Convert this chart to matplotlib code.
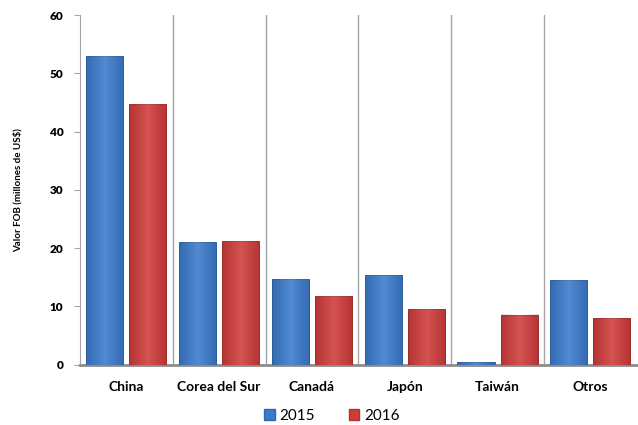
import matplotlib
matplotlib.use("Agg")
import matplotlib.pyplot as plt
import numpy as np
from matplotlib.patches import Patch

categories = ["China", "Corea del Sur", "Canadá", "Japón", "Taiwán", "Otros"]
v2015 = [53.0, 21.0, 14.7, 15.4, 0.4, 14.5]
v2016 = [44.7, 21.2, 11.8, 9.5, 8.6, 8.0]
series = ["2015", "2016"]
yticks = [0, 10, 20, 30, 40, 50, 60]

plt.rcParams['font.family'] = ['Lato', 'DejaVu Sans']

fig = plt.figure(figsize=(6.38, 4.25), dpi=100)
ax = fig.add_axes([0.1254, 0.1419, 0.8726, 0.8228])

x = np.arange(len(categories))
w = 0.40
off = 0.232
c_blue = "#3b7bcb"
c_red = "#cf3c3c"
e_blue = "#3468ad"
e_red = "#b03232"

b1 = ax.bar(x - off, v2015, width=w, color=c_blue, edgecolor=e_blue, linewidth=0.7, zorder=3)
b2 = ax.bar(x + off, v2016, width=w, color=c_red, edgecolor=e_red, linewidth=0.7, zorder=3)

# subtle gradient shading on bars
grad = np.linspace(0, 1, 64)
shade = 1 - np.abs(grad - 0.5) * 2
for bars in (b1, b2):
    for b in bars:
        bx, by = b.get_x(), b.get_y()
        bw, bh = b.get_width(), b.get_height()
        if bh <= 0:
            continue
        img = np.zeros((1, 64, 4))
        img[0, :, :3] = 1.0
        img[0, :, 3] = shade * 0.12
        ax.imshow(img, extent=[bx, bx + bw, by, by + bh], aspect='auto', zorder=4, interpolation='bilinear')
        dk = np.zeros((1, 64, 4))
        dk[0, :, 3] = (1 - shade) * 0.12
        ax.imshow(dk, extent=[bx, bx + bw, by, by + bh], aspect='auto', zorder=4, interpolation='bilinear')

ax.set_xlim(-0.5, len(categories) - 0.5)
ax.set_ylim(0, 60)

for i in range(1, len(categories)):
    ax.axvline(i - 0.5, color="#a6a6a6", linewidth=1.0, zorder=1)

ax.set_yticks(yticks)
ax.set_yticklabels([str(t) for t in yticks], fontsize=8.5, fontweight='heavy')
ax.set_xticks(x)
ax.set_xticklabels(categories, fontsize=10, fontweight='bold')
ax.tick_params(axis='x', length=0, pad=12)
ax.tick_params(axis='y', length=4, color="#a6a6a6", pad=8)

for s in ['top', 'right']:
    ax.spines[s].set_visible(False)
ax.spines['left'].set_color("#a6a6a6")
ax.spines['bottom'].set_color("#8c8c8c")
ax.spines['bottom'].set_linewidth(2)

fig.text(0.028, 0.553, "Valor FOB (millones de US$)", rotation=90, fontsize=7,
         fontweight='bold', ha='center', va='center')

handles = [Patch(facecolor=c_blue, edgecolor=e_blue), Patch(facecolor=c_red, edgecolor=e_red)]
fig.legend(handles, series, loc='center', bbox_to_anchor=(0.52, 0.022), ncol=2, frameon=False,
           fontsize=11, handlelength=0.7, handleheight=0.7, handletextpad=0.3, columnspacing=2.2)

fig.savefig("out.png", dpi=100)
